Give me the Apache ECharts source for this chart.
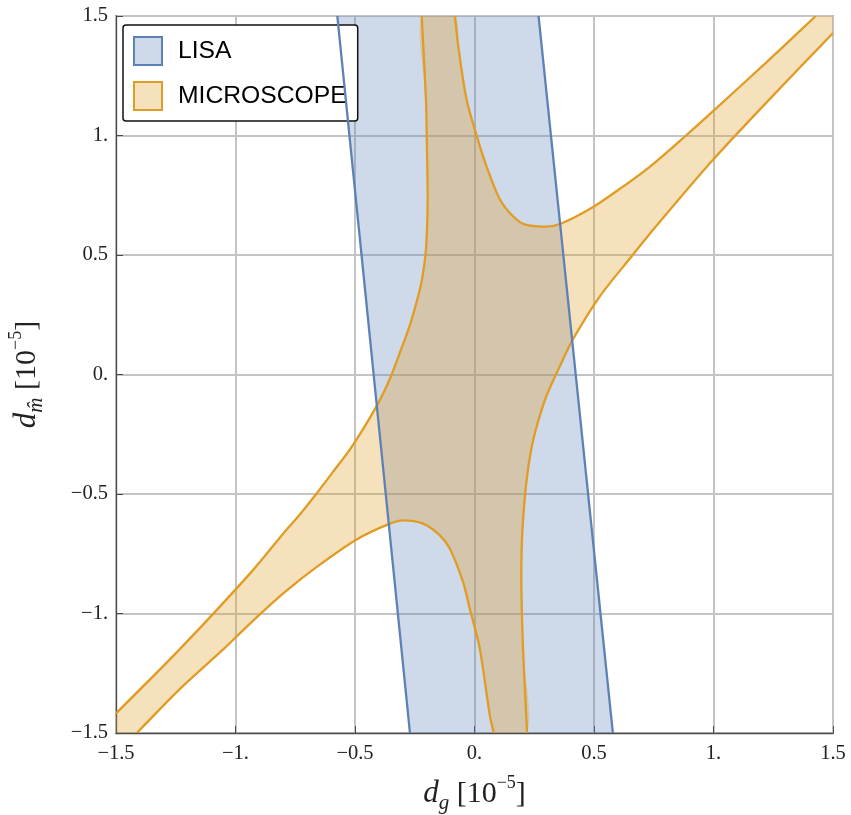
<!DOCTYPE html>
<html><head><meta charset="utf-8">
<script src="https://cdn.jsdelivr.net/npm/echarts@6/dist/echarts.min.js"></script>
<style>html,body{margin:0;padding:0;background:#fff}#c{width:851px;height:815px}</style>
</head><body><div id="c"></div>
<script>
// Tick values and their Mathematica-style labels
const tickValues = [-1.5, -1, -0.5, 0, 0.5, 1, 1.5];
const tickLabels = ['\u22121.5', '\u22121.', '\u22120.5', '0.', '0.5', '1.', '1.5'];
const seriesNames = ['LISA', 'MICROSCOPE'];

// LISA band edges [d_g, d_m]
const lisaLeft  = [[-0.574, 1.5], [-0.270, -1.5]];
const lisaRight = [[0.268, 1.5], [0.579, -1.5]];

// MICROSCOPE boundary branches [d_g, d_m]
// A: upper-right branch (top edge -> vertex -> top edge)
const microA = [[-0.082,1.5],[-0.066,1.359],[-0.033,1.150],[0.014,0.983],[0.050,0.872],[0.106,0.733],
  [0.160,0.663],[0.210,0.628],[0.301,0.619],[0.363,0.632],[0.495,0.700],[0.607,0.776],[0.732,0.868],
  [0.885,1.000],[0.996,1.100],[1.219,1.304],[1.428,1.5]];
// B: lower-right branch (right edge -> bottom edge)
const microB = [[1.5,1.429],[1.250,1.168],[0.996,0.896],[0.732,0.587],[0.662,0.500],[0.523,0.325],
  [0.412,0.148],[0.370,0.062],[0.301,-0.090],[0.264,-0.204],[0.238,-0.310],[0.217,-0.450],
  [0.200,-0.659],[0.196,-0.868],[0.203,-1.146],[0.220,-1.5]];
// D: lower-left branch (bottom edge -> vertex -> bottom edge)
const microD = [[0.081,-1.5],[0.064,-1.425],[0.022,-1.146],[-0.020,-0.979],[-0.048,-0.868],[-0.103,-0.729],
  [-0.145,-0.673],[-0.215,-0.624],[-0.298,-0.610],[-0.354,-0.624],[-0.493,-0.690],[-0.660,-0.805],
  [-0.799,-0.915],[-0.937,-1.040],[-1.047,-1.146],[-1.230,-1.313],[-1.413,-1.5]];
// C: upper-left branch (left edge -> top edge)
const microC = [[-1.5,-1.418],[-1.230,-1.146],[-0.937,-0.830],[-0.799,-0.664],[-0.729,-0.584],[-0.660,-0.497],
  [-0.590,-0.405],[-0.521,-0.313],[-0.458,-0.215],[-0.395,-0.105],[-0.354,-0.018],[-0.312,0.092],[-0.270,0.208],
  [-0.240,0.312],[-0.221,0.390],[-0.203,0.524],[-0.196,0.733],[-0.200,1.000],[-0.203,1.150],[-0.221,1.5]];
const microCornerTR = [1.5, 1.5];
const microCornerBL = [-1.5, -1.5];

const lisaPoly = [lisaLeft[0], lisaRight[0], lisaRight[1], lisaLeft[1]];
const microPoly = [].concat(microA, [microCornerTR], microB, microD, [microCornerBL], microC);

const blue = '#5E81B5', blueFill = 'rgba(94,129,181,0.30)';
const orange = '#E09C24', orangeFill = 'rgba(224,156,36,0.30)';

function makeRender(poly, lines, fill, stroke, smooth) {
  return function (params, api) {
    if (params.dataIndex !== 0) return null;
    const px = arr => arr.map(p => api.coord(p));
    const children = [];
    if (poly) children.push({ type: 'polygon', shape: { points: px(poly), smooth: smooth }, style: { fill: fill, stroke: null } });
    lines.forEach(l => children.push({
      type: 'polyline', shape: { points: px(l), smooth: smooth },
      style: { fill: null, stroke: stroke, lineWidth: 2.3, lineJoin: 'round' }
    }));
    return { type: 'group', children: children };
  };
}

const fmt = v => {
  const i = tickValues.findIndex(t => Math.abs(t - v) < 1e-9);
  return i >= 0 ? tickLabels[i] : '';
};

const serif = 'Liberation Serif';
const nameRich = {
  d: { fontFamily: serif, fontStyle: 'italic', fontSize: 31, lineHeight: 40, color: '#222' },
  s: { fontFamily: serif, fontStyle: 'italic', fontSize: 21, lineHeight: 21, verticalAlign: 'bottom', color: '#222' },
  n: { fontFamily: serif, fontSize: 30, lineHeight: 40, color: '#222' },
  p: { fontFamily: serif, fontSize: 18, lineHeight: 18, verticalAlign: 'top', color: '#222' }
};

const axisCommon = {
  type: 'value', min: -1.5, max: 1.5, interval: 0.5,
  axisLine: { show: true, onZero: false, lineStyle: { color: '#4a4a4a', width: 1.3 } },
  axisTick: { show: true, inside: true, length: 7, lineStyle: { color: '#4a4a4a', width: 1 } },
  splitLine: { show: true, lineStyle: { color: '#c4c4c4', width: 2 } },
  axisLabel: { formatter: fmt, fontFamily: serif, fontSize: 20.5, color: '#222' },
  nameLocation: 'middle',
  nameTextStyle: { rich: nameRich }
};

const chart = echarts.init(document.getElementById('c'), null, { renderer: 'canvas' });
chart.setOption({
  animation: false,
  backgroundColor: '#fff',
  grid: { left: 116, top: 16, width: 717, height: 717, show: true, borderColor: '#4a4a4a', borderWidth: 1.3,
          containLabel: false, outerBoundsMode: 'none' },
  xAxis: Object.assign({}, axisCommon, { name: '{d|d}{s|g}{n| [10}{p|\u22125}{n|]}', nameGap: 41,
    axisLabel: Object.assign({}, axisCommon.axisLabel, { margin: 10 }) }),
  yAxis: Object.assign({}, axisCommon, { name: '{d|d}{s|m\u0302}{n| [10}{p|\u22125}{n|]}', nameGap: 69,
    axisLabel: Object.assign({}, axisCommon.axisLabel, { margin: 8 }) }),
  legend: {
    left: 123, top: 25, orient: 'vertical',
    backgroundColor: '#fff', borderColor: '#111', borderWidth: 1.5, borderRadius: 3,
    padding: [11, 11, 10, 10], itemGap: 15, itemWidth: 28, itemHeight: 28,
    textStyle: { fontFamily: 'Liberation Sans', fontSize: 24.7, color: '#000', padding: [0, 0, 0, 11] },
    data: [
      { name: seriesNames[0], icon: 'rect', itemStyle: { color: blueFill, borderColor: blue, borderWidth: 2 } },
      { name: seriesNames[1], icon: 'rect', itemStyle: { color: orangeFill, borderColor: orange, borderWidth: 2 } }
    ]
  },
  series: [
    { type: 'custom', name: seriesNames[0], clip: true, itemStyle: { color: blueFill, borderColor: blue },
      renderItem: makeRender(lisaPoly, [], blueFill, blue, 0),
      encode: { x: 0, y: 1 }, data: lisaPoly, z: 2 },
    { type: 'custom', name: seriesNames[1], clip: true, itemStyle: { color: orangeFill, borderColor: orange },
      renderItem: makeRender(microPoly, [microA, microB, microC, microD], orangeFill, orange, 0.3),
      encode: { x: 0, y: 1 }, data: microPoly, z: 3 },
    { type: 'custom', name: seriesNames[0], clip: true, itemStyle: { color: blueFill, borderColor: blue },
      renderItem: makeRender(null, [lisaLeft, lisaRight], blueFill, blue, 0),
      encode: { x: 0, y: 1 }, data: lisaPoly, z: 4 }
  ]
});
</script></body></html>
